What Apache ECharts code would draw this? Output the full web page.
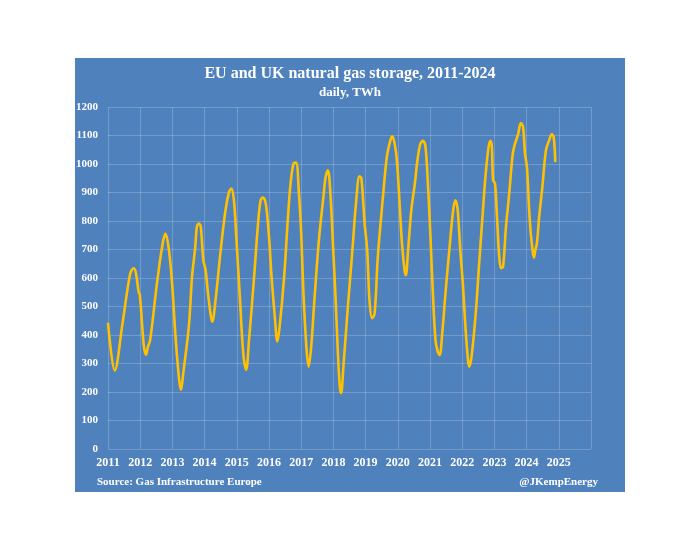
<!DOCTYPE html>
<html>
<head>
<meta charset="utf-8">
<style>html,body{margin:0;padding:0;background:#fff;}#chart{width:700px;height:550px;}</style>
<script src="https://cdn.jsdelivr.net/npm/echarts@6/dist/echarts.min.js"></script>
</head>
<body>
<div id="chart"></div>
<script>
// decimal year positions
const yearPos = [
2011.00,2011.21,2011.45,2011.69,2011.80,2011.87,2011.95,2011.99,2012.11,2012.18,2012.24,2012.31,2012.52,2012.68,2012.78,2012.88,2012.99,
2013.09,2013.19,2013.26,2013.35,2013.51,2013.61,2013.71,2013.76,2013.82,2013.88,2013.96,2014.03,2014.13,2014.24,2014.34,2014.50,2014.65,2014.76,2014.83,2014.91,2014.99,
2015.10,2015.20,2015.29,2015.38,2015.53,2015.66,2015.74,2015.81,2015.90,2016.00,2016.08,2016.18,2016.26,2016.33,2016.47,2016.59,2016.67,2016.76,2016.84,2016.93,
2017.00,2017.07,2017.16,2017.23,2017.31,2017.41,2017.55,2017.69,2017.76,2017.83,2017.90,2017.98,2018.07,2018.14,2018.20,2018.24,2018.31,2018.45,2018.59,2018.71,2018.81,2018.87,2018.97,
2019.05,2019.12,2019.20,2019.28,2019.38,2019.53,2019.66,2019.77,2019.83,2019.92,2019.98,2020.05,2020.13,2020.21,2020.25,2020.32,2020.42,2020.53,2020.61,2020.70,2020.78,2020.86,2020.94,
2021.01,2021.09,2021.17,2021.24,2021.30,2021.38,2021.48,2021.60,2021.72,2021.79,2021.86,2021.94,2022.02,2022.10,2022.18,2022.22,2022.29,2022.42,2022.52,2022.63,2022.73,2022.82,2022.88,2022.92,2022.96,
2023.02,2023.08,2023.15,2023.21,2023.27,2023.36,2023.46,2023.57,2023.64,2023.74,2023.82,2023.89,2023.95,2024.01,2024.08,2024.13,2024.20,2024.23,2024.27,2024.32,2024.39,2024.49,2024.60,2024.70,2024.78,2024.84,2024.89
];
// storage, TWh
const storage = [
443,275,440,616,634,616,552,540,365,330,359,383,581,709,756,709,581,
406,266,208,278,429,604,709,780,791,780,663,628,523,447,523,698,838,902,914,873,733,
523,336,278,383,593,791,873,882,861,745,604,464,377,429,604,815,931,1001,1005,896,
756,546,359,289,359,523,733,885,955,978,908,733,523,336,219,196,289,500,698,873,957,949,791,
698,523,459,476,675,873,1025,1083,1097,1060,1001,873,721,628,610,698,838,931,1013,1071,1081,1060,920,
756,546,383,342,330,406,546,698,838,873,838,698,581,429,313,289,324,476,640,815,966,1060,1081,1060,943,
931,815,675,634,640,780,896,1036,1071,1106,1144,1130,1036,990,838,756,686,672,698,721,815,920,1048,1083,1104,1095,1007
];
const yTicks = [0,100,200,300,400,500,600,700,800,900,1000,1100,1200];
const xYears = [2011,2012,2013,2014,2015,2016,2017,2018,2019,2020,2021,2022,2023,2024,2025];

const titleText = 'EU and UK natural gas storage, 2011-2024';
const subtitleText = 'daily, TWh';
const sourceText = 'Source: Gas Infrastructure Europe';
const creditText = '@JKempEnergy';

const serif = '"Liberation Serif", "DejaVu Serif", serif';
const chart = echarts.init(document.getElementById('chart'), null, {renderer: 'canvas'});
const data = yearPos.map((x, i) => [x, storage[i]]);

chart.setOption({
  backgroundColor: '#ffffff',
  animation: false,
  graphic: [
    {type: 'rect', z: -10, shape: {x: 75, y: 58, width: 550, height: 434}, style: {fill: '#4F81BD'}, silent: true},
    {type: 'text', z: 10, left: 97, top: 477, style: {text: sourceText, fill: '#ffffff', font: 'bold 11px ' + serif}},
    {type: 'text', z: 10, right: 102, top: 477, style: {text: creditText, fill: '#ffffff', font: 'bold 11px ' + serif}}
  ],
  title: {
    text: titleText,
    subtext: subtitleText,
    left: 'center',
    top: 61,
    itemGap: 4,
    textStyle: {color: '#ffffff', fontFamily: serif, fontWeight: 'bold', fontSize: 16},
    subtextStyle: {color: '#ffffff', fontFamily: serif, fontWeight: 'bold', fontSize: 13}
  },
  grid: {left: 108, right: 109, top: 107, bottom: 101, containLabel: false},
  xAxis: {
    type: 'value',
    min: 2011, max: 2026, interval: 1,
    axisLine: {show: false},
    axisTick: {show: false},
    splitLine: {show: true, lineStyle: {color: 'rgba(255,255,255,0.2)', width: 1}},
    axisLabel: {
      color: '#ffffff', fontFamily: serif, fontWeight: 'bold', fontSize: 12, margin: 8,
      formatter: v => xYears.indexOf(v) >= 0 ? String(v) : ''
    }
  },
  yAxis: {
    type: 'value',
    min: yTicks[0], max: yTicks[yTicks.length - 1], interval: 100,
    axisLine: {show: false},
    axisTick: {show: false},
    splitLine: {show: true, lineStyle: {color: 'rgba(255,255,255,0.2)', width: 1}},
    axisLabel: {color: '#ffffff', fontFamily: serif, fontWeight: 'bold', fontSize: 11, margin: 10,
      formatter: v => String(v)}
  },
  series: [{
    type: 'line',
    data: data,
    showSymbol: false,
    smooth: 0.35,
    lineStyle: {color: '#FFC000', width: 2.6},
    itemStyle: {color: '#FFC000'}
  }]
});
</script>
</body>
</html>
